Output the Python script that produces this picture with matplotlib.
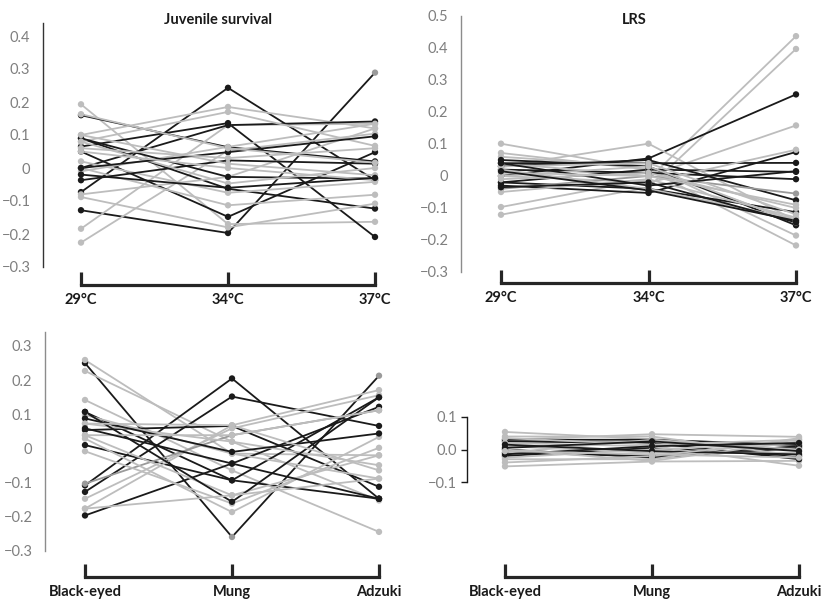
import matplotlib
matplotlib.use('Agg')
import matplotlib.pyplot as plt

plt.rcParams['font.family'] = ['Lato', 'DejaVu Sans']

# colours used for the genotype lines
K = '#1a1a1a'   # black
G = '#bdbdbd'   # light grey
M = '#9a9a9a'   # mid grey

temps = ['29°C', '34°C', '37°C']
hosts = ['Black-eyed', 'Mung', 'Adzuki']

# Juvenile survival vs temperature: (29, 34, 37), line colour[, marker colours]
juv_temp = [
    ([-0.073, 0.243, -0.037], K),
    ([-0.128, -0.197, 0.289], K, [K, K, M]),
    ([0.193, -0.170, -0.163], G),
    ([0.160, 0.063, 0.020], K),
    ([0.100, 0.185, 0.120], G),
    ([-0.184, 0.130, 0.134], G),
    ([-0.226, 0.053, 0.104], G),
    ([0.090, -0.063, -0.123], K),
    ([0.000, 0.130, 0.141], K),
    ([0.050, -0.148, 0.048], K),
    ([0.065, 0.136, -0.209], K),
    ([0.080, 0.170, 0.067], G),
    ([0.020, -0.075, -0.042], G),
    ([0.000, -0.113, -0.081], G),
    ([-0.010, 0.064, 0.134], G),
    ([-0.080, -0.027, 0.120], G),
    ([-0.088, -0.180, -0.108], G),
    ([-0.037, 0.023, 0.013], K),
    ([0.090, -0.027, -0.032], K),
    ([0.080, -0.047, 0.000], G),
    ([0.100, 0.013, -0.022], G),
    ([0.000, 0.048, 0.096], K),
    ([0.050, 0.000, -0.037], G),
    ([0.163, 0.060, 0.016], G),
    ([-0.020, -0.060, -0.030], K),
    ([0.060, 0.030, 0.060], G),
]

# LRS vs temperature
lrs_temp = [
    ([0.101, 0.020, -0.140], G),
    ([-0.121, -0.035, 0.397], G),
    ([-0.097, -0.010, 0.437], G),
    ([0.000, 0.055, 0.255], K),
    ([0.030, 0.101, -0.140], G),
    ([0.040, 0.000, 0.158], G),
    ([0.072, 0.020, -0.217], G),
    ([0.060, 0.030, -0.186], G),
    ([0.040, 0.040, 0.041], K),
    ([-0.020, 0.020, 0.013], K),
    ([0.020, 0.010, -0.010], K),
    ([-0.030, -0.053, 0.075], K),
    ([0.000, -0.020, 0.082], G),
    ([0.030, 0.050, -0.076], K),
    ([-0.020, -0.040, -0.113], K),
    ([0.050, 0.030, -0.154], K),
    ([-0.040, 0.000, -0.055], M),
    ([0.020, -0.040, -0.135], G),
    ([0.000, 0.030, -0.145], G),
    ([-0.050, -0.010, -0.130], G),
    ([-0.035, -0.020, -0.145], K),
    ([0.030, 0.040, -0.120], G),
    ([0.040, -0.030, 0.015], K),
    ([0.010, 0.000, -0.090], G),
    ([-0.010, 0.010, -0.100], G),
    ([0.015, -0.045, -0.140], K),
]

# Juvenile survival vs host
juv_host = [
    ([0.250, -0.259, 0.213], K, [K, M, M]),
    ([0.259, -0.015, -0.020], G),
    ([0.227, 0.020, -0.152], G),
    ([0.142, -0.064, -0.244], G),
    ([0.107, -0.093, -0.147], K),
    ([-0.108, 0.205, -0.147], K),
    ([-0.127, 0.152, 0.066], K),
    ([0.054, 0.066, -0.112], K),
    ([0.010, -0.093, 0.150], K),
    ([-0.196, -0.044, 0.122], K),
    ([-0.176, 0.068, 0.171], G),
    ([-0.147, 0.059, 0.156], G),
    ([-0.103, 0.039, 0.112], M),
    ([0.098, -0.015, -0.088], G),
    ([0.073, 0.020, -0.049], G),
    ([0.039, -0.137, -0.020], G),
    ([0.029, -0.186, 0.034], G),
    ([-0.008, -0.161, 0.002], G),
    ([0.088, -0.010, 0.044], K),
    ([0.107, -0.156, 0.150], K),
    ([0.073, 0.068, -0.064], G),
    ([0.039, 0.039, 0.112], G),
    ([0.059, -0.044, -0.147], K),
    ([-0.176, -0.137, -0.088], G),
]

# LRS vs host
lrs_host = [
    ([0.054, 0.032, 0.010], G),
    ([-0.052, -0.037, -0.035], G),
    ([0.030, 0.047, 0.039], G),
    ([0.030, 0.030, 0.014], K),
    ([0.025, 0.020, -0.030], K),
    ([-0.010, -0.020, 0.010], K),
    ([0.000, -0.025, 0.005], K),
    ([-0.020, 0.005, -0.020], K),
    ([0.020, 0.010, -0.050], G),
    ([-0.030, -0.030, 0.035], G),
    ([-0.025, 0.000, 0.020], G),
    ([0.010, -0.010, -0.010], G),
    ([0.040, 0.040, -0.020], G),
    ([-0.010, 0.030, 0.000], G),
    ([0.000, -0.035, 0.025], G),
    ([0.015, -0.005, -0.015], K),
    ([-0.040, -0.020, 0.030], G),
    ([0.035, 0.015, 0.030], G),
    ([-0.015, 0.010, 0.020], K),
    ([0.005, 0.025, -0.005], K),
    ([-0.005, -0.015, -0.025], G),
]

W, H = 824, 603
fig = plt.figure(figsize=(W / 100, H / 100), dpi=100)


def panel(series, cats, spine_x, c0, c2, vref, pref, ytop, ybot, bracket,
          yticks, ylabels, spine_col, ybounds=None, ytick_len=0):
    right = c2 + 14
    ax = fig.add_axes([spine_x / W, 1 - ybot / H, (right - spine_x) / W,
                       (ybot - ytop) / H])
    ppx = (c2 - c0) / 2.0
    ax.set_xlim(-(c0 - spine_x) / ppx, 2 + 14 / ppx)
    ppy = (pref[1] - pref[0]) / (vref[0] - vref[1])
    ax.set_ylim(vref[1] - (ybot - pref[1]) / ppy, vref[0] + (pref[0] - ytop) / ppy)

    for s in series:
        vals, col = s[0], s[1]
        mks = s[2] if len(s) > 2 else [col] * 3
        ax.plot(range(3), vals, '-', color=col, lw=1.3, clip_on=False)
        ax.scatter(range(3), vals, s=21, c=mks, lw=0, zorder=3, clip_on=False)

    for s in ['top', 'right']:
        ax.spines[s].set_visible(False)
    ax.spines['left'].set_color(spine_col)
    ax.spines['left'].set_linewidth(1.0)
    if ybounds:
        ax.spines['left'].set_bounds(*ybounds)
    ax.spines['bottom'].set_position(('outward', (bracket - ybot) * 0.72))
    ax.spines['bottom'].set_bounds(0, 2)
    ax.spines['bottom'].set_linewidth(2.3)
    ax.spines['bottom'].set_color('#262626')

    ax.set_xticks(range(3))
    ax.set_xticklabels(cats, fontweight='bold', fontsize=10.5, color='#1a1a1a')
    ax.tick_params(axis='x', direction='in', length=9.5, width=2.3,
                   color='#262626', pad=6)
    ax.set_yticks(yticks)
    ax.set_yticklabels(ylabels, fontsize=10.5, color='#7f7f7f')
    ax.tick_params(axis='y', length=ytick_len, width=1.0, color=spine_col,
                   pad=9 if ytick_len == 0 else 3)
    return ax


lab8 = ['\u22120.3', '\u22120.2', '\u22120.1', '0', '0.1', '0.2', '0.3', '0.4']
ticks8 = [-0.3, -0.2, -0.1, 0, 0.1, 0.2, 0.3, 0.4]

panel(juv_temp, temps, 43, 81, 375, (0.4, -0.3), (36, 267), 23, 267, 285,
      ticks8, lab8, '#333333')
panel(lrs_temp, temps, 461, 501, 796, (0.5, -0.3), (16, 272), 16, 272, 283,
      ticks8 + [0.5], lab8 + ['0.5'], '#8c8c8c')
panel(juv_host, hosts, 45, 85, 379, (0.3, -0.3), (346, 551), 332, 551, 577,
      ticks8[:-1], lab8[:-1], '#8c8c8c')
panel(lrs_host, hosts, 467, 505, 799, (0.1, -0.1), (417, 482), 332, 551, 577,
      [-0.1, 0.0, 0.1], ['\u22120.1', '0.0', '0.1'], '#1a1a1a',
      ybounds=(-0.1, 0.1), ytick_len=4)

fig.text(218 / W, 1 - 20 / H, 'Juvenile survival', ha='center', va='center',
         fontweight='bold', fontsize=10.5, color='#1a1a1a')
fig.text(634 / W, 1 - 20 / H, 'LRS', ha='center', va='center',
         fontweight='bold', fontsize=10.5, color='#1a1a1a')

fig.savefig('out.png', dpi=100)
